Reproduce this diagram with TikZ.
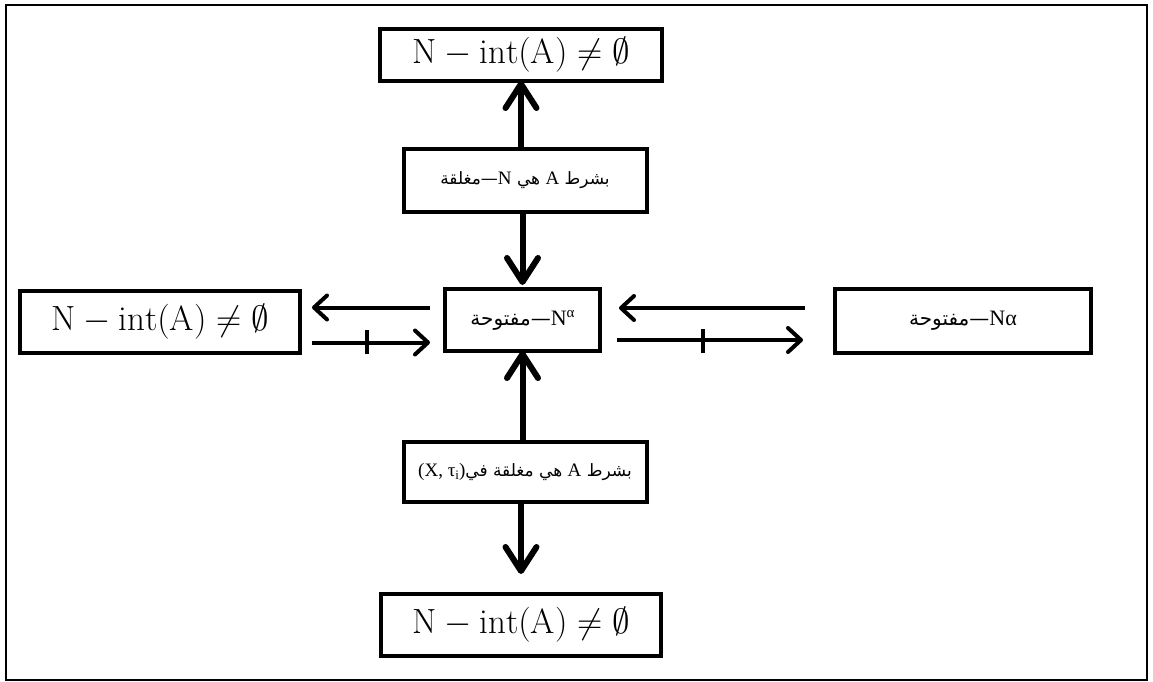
\RequirePackage{fix-cm}
\documentclass[tikz,border=0pt]{standalone}
\usepackage{fontspec}
\usetikzlibrary{arrows.meta}
\TeXXeTstate=1
\newfontfamily\arabicfont[Script=Arabic]{DejaVu Sans}
\newfontfamily\latf{Liberation Serif}
\newcommand{\nint}{$\mathrm{N}-\mathrm{int}(\mathrm{A})\neq\emptyset$}
\newcommand{\lat}[1]{\hbox{\latf\fontsize{19}{22}\selectfont #1}}
\newcommand{\latb}[1]{\hbox{\latf\fontsize{22}{26}\selectfont #1}}
\newcommand{\latsup}[1]{\raisebox{8pt}{\fontsize{15}{17}\selectfont #1}}
\newcommand{\latsub}[1]{\raisebox{-3pt}{\fontsize{13}{15}\selectfont #1}}
\begin{document}
\begin{tikzpicture}[x=1pt,y=-1pt,
  frame/.style={draw, line width=2pt},
  box/.style={draw, line width=4pt, inner sep=0pt, outer sep=0pt, fill=white},
  mathbox/.style={box, font=\fontsize{35}{40}\selectfont},
  arbox/.style={box, font=\fontsize{17}{21}\selectfont},
  arboxb/.style={box, font=\fontsize{20}{24}\selectfont},
  varr/.style={line width=6pt, -{Straight Barb[length=24pt,width=31pt,round]}},
  harr/.style={line width=4pt, -{Straight Barb[length=13pt,width=24pt,round]}},
  tickmark/.style={line width=3.5pt}]
\useasboundingbox (0,0) rectangle (1153,682);
\draw[frame] (6,5.5) rectangle (1147,680);

\node[mathbox, minimum width=282pt, minimum height=52pt] (top) at (521,55) {\nint};
\node[arbox, minimum width=243pt, minimum height=63pt] (c1) at (525,180.5)
  {\arabicfont\beginR بشرط \lat{A} هي \lat{N}—مغلقة\endR};
\node[arboxb, minimum width=155pt, minimum height=62pt] (cen) at (522.5,320)
  {\arabicfont\beginR\latb{\latsup{α}N}—مفتوحة\endR};
\node[mathbox, minimum width=280pt, minimum height=62pt] (left) at (160,322) {\nint};
\node[arboxb, minimum width=256pt, minimum height=64pt] (right) at (963,321)
  {\arabicfont\beginR\latb{Nα}—مفتوحة\endR};
\node[arbox, minimum width=243pt, minimum height=60pt] (c2) at (525,471.5)
  {\lat{(X, τ\latsub{i})}{\arabicfont\beginR بشرط \lat{A} هي مغلقة في\endR}};
\node[mathbox, minimum width=280pt, minimum height=62pt] (bot) at (521,625) {\nint};

% vertical arrows
\draw[varr] (c1.north -| top.south) -- (top.south);
\draw[varr] (c1.south -| cen.north) -- ([yshift=4pt]cen.north);
\draw[varr] (c2.north -| cen.south) -- (cen.south);
\draw[varr] (c2.south -| bot.north) -- ([yshift=20pt]bot.north);

% horizontal arrows
\coordinate (lus) at (430,307.5);
\coordinate (lue) at (312,307.5);
\coordinate (lls) at (312,342.5);
\coordinate (lle) at (430,342.5);
\coordinate (lt1) at (367,330);
\coordinate (lt2) at (367,354);
\coordinate (rus) at (805,308);
\coordinate (rue) at (619,308);
\coordinate (rls) at (617,340);
\coordinate (rle) at (803,340);
\coordinate (rt1) at (703,329);
\coordinate (rt2) at (703,353);
\draw[harr] (lus) -- (lue);
\draw[harr] (lls) -- (lle);
\draw[tickmark] (lt1) -- (lt2);
\draw[harr] (rus) -- (rue);
\draw[harr] (rls) -- (rle);
\draw[tickmark] (rt1) -- (rt2);
\end{tikzpicture}
\end{document}
